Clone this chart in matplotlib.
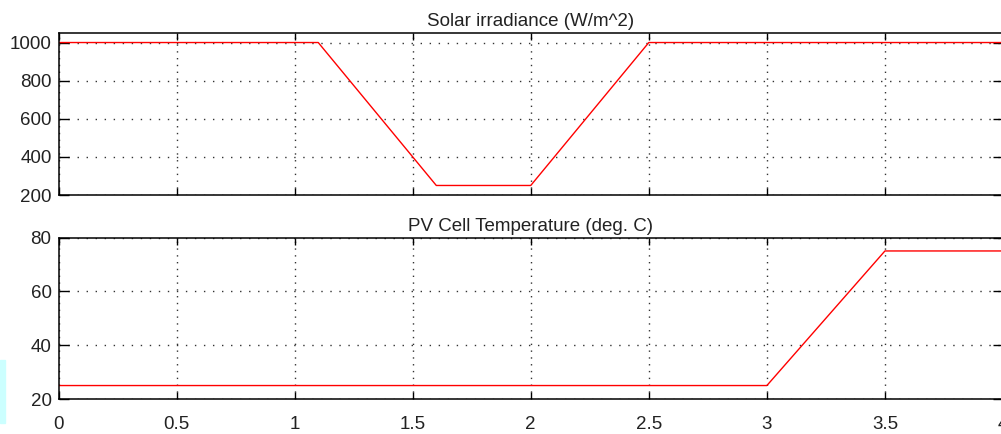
import numpy as np
import matplotlib.pyplot as plt
from matplotlib.patches import Rectangle

plt.rcParams['font.family'] = ['Liberation Sans', 'DejaVu Sans']

# breakpoints of the two input profiles (time in s)
t_irr = [0, 1.1, 1.6, 2.0, 2.5, 4.0]
irr = [1000, 1000, 250, 250, 1000, 1000]  # W/m^2

t_temp = [0, 3.0, 3.5, 4.0]
temp = [25, 25, 75, 75]  # deg C

xticks = np.arange(0, 4.01, 0.5)
xlabels = ['0', '0.5', '1', '1.5', '2', '2.5', '3', '3.5', '4']

W, H = 1001, 434
fig = plt.figure(figsize=(W / 100, H / 100), dpi=100)

# little light-blue artifact on the left edge
fig.patches.append(Rectangle((0, 1 - 423 / H), 5 / W, 63 / H,
                             transform=fig.transFigure, color='#ccffff', zorder=0))

left = 58.5 / W
width = (1003 - 58.5) / W
ax1 = fig.add_axes([left, 1 - 195 / H, width, 162 / H])
ax2 = fig.add_axes([left, 1 - 399 / H, width, 161.5 / H])

ax1.plot(t_irr, irr, color='#ff0000', lw=1.0)
ax2.plot(t_temp, temp, color='#ff0000', lw=1.0)

ax1.set_ylim(200, 1050)
ax1.set_yticks([200, 400, 600, 800, 1000])
ax2.set_ylim(20, 80)
ax2.set_yticks([20, 40, 60, 80])

ax1.set_title('Solar irradiance (W/m^2)', fontsize=13.5, pad=5, color='#222222')
ax2.set_title('PV Cell Temperature (deg. C)', fontsize=13.5, pad=5, color='#222222')

for ax in (ax1, ax2):
    ax.set_xlim(0, 4)
    ax.set_xticks(xticks)
    ax.set_xticklabels(xlabels)
    ax.xaxis.grid(True, color='#333333', linestyle=(0, (1, 3.9)), lw=1.0)
    ax.yaxis.grid(True, color='#333333', linestyle=(0, (1, 5.5)), lw=1.0)
    ax.tick_params(direction='in', top=True, right=True, labelsize=13.5,
                   labelcolor='#222222', width=1.0)
    ax.tick_params(axis='x', length=5, pad=12)
    ax.tick_params(axis='y', length=7, pad=5)
    for s in ax.spines.values():
        s.set_linewidth(1.1)
ax1.tick_params(axis='x', labelbottom=False)

fig.savefig('out.png', dpi=100)
